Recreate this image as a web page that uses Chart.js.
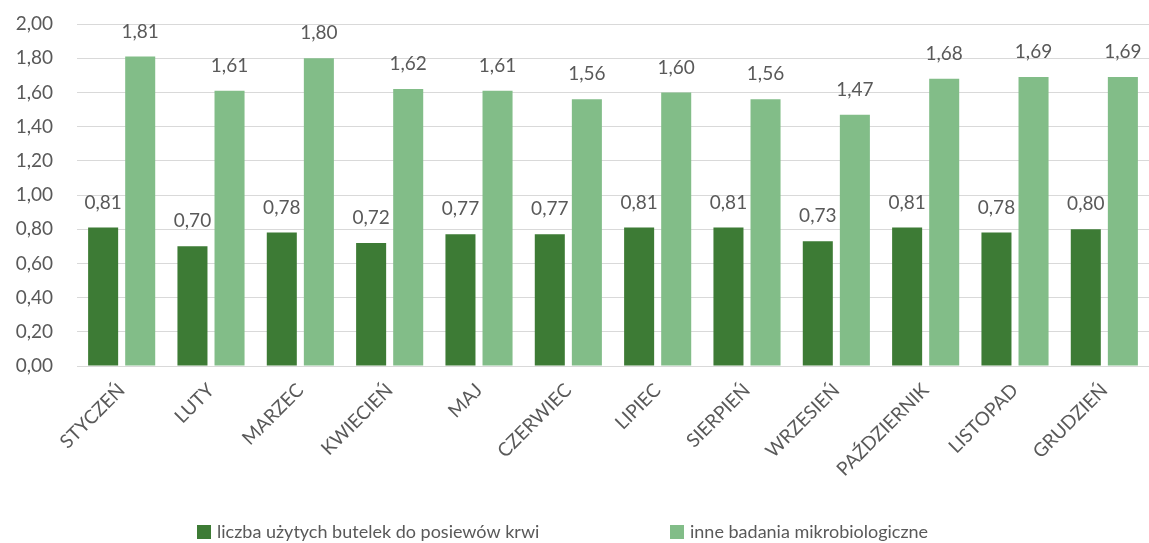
<!DOCTYPE html>
<html>
<head>
<meta charset="utf-8">
<script src="https://cdn.jsdelivr.net/npm/chart.js@4/dist/chart.umd.min.js"></script>
<style>
    html, body { margin: 0; padding: 0; background: #fff; }
    #wrap { width: 1149px; height: 543px; }
</style>
</head>
<body>
<div id="wrap"><canvas id="chart"></canvas></div>
<script>
// months on the x axis
const months = ["STYCZEŃ", "LUTY", "MARZEC", "KWIECIEŃ", "MAJ", "CZERWIEC", "LIPIEC",
    "SIERPIEŃ", "WRZESIEŃ", "PAŹDZIERNIK", "LISTOPAD", "GRUDZIEŃ"];

const bottlesValues = [0.81, 0.70, 0.78, 0.72, 0.77, 0.77, 0.81, 0.81, 0.73, 0.81, 0.78, 0.80];
const otherValues = [1.81, 1.61, 1.80, 1.62, 1.61, 1.56, 1.60, 1.56, 1.47, 1.68, 1.69, 1.69];

const seriesNames = ["liczba użytych butelek do posiewów krwi", "inne badania mikrobiologiczne"];
const seriesColors = ["#3d7b35", "#82bd88"];

const textColor = "#595959";
const fontFamily = "Lato, 'Open Sans', sans-serif";
const fontSize = 19;

function fmt(v) {
    return v.toFixed(2).replace(".", ",");
}

// draw value labels above each bar
const valueLabels = {
    id: "valueLabels",
    afterDatasetsDraw(chart) {
        const ctx = chart.ctx;
        ctx.save();
        ctx.font = fontSize + "px " + fontFamily;
        ctx.fillStyle = textColor;
        ctx.textAlign = "center";
        ctx.textBaseline = "middle";
        chart.data.datasets.forEach((ds, i) => {
            const meta = chart.getDatasetMeta(i);
            meta.data.forEach((bar, j) => {
                ctx.fillText(fmt(ds.data[j]), bar.x, bar.y - 25);
            });
        });
        ctx.restore();
    }
};

// legend at the bottom, wide gap between the two items
const bottomLegend = {
    id: "bottomLegend",
    afterDraw(chart) {
        const ctx = chart.ctx;
        const y = 532;
        const itemX = [197, 670];
        ctx.save();
        ctx.font = "18px " + fontFamily;
        ctx.textBaseline = "middle";
        ctx.textAlign = "left";
        seriesNames.forEach((name, i) => {
            ctx.fillStyle = seriesColors[i];
            ctx.fillRect(itemX[i], y - 7, 14, 14);
            ctx.fillStyle = textColor;
            ctx.fillText(name, itemX[i] + 20, y);
        });
        ctx.restore();
    }
};

const ctx = document.getElementById("chart").getContext("2d");
new Chart(ctx, {
    type: "bar",
    data: {
        labels: months,
        datasets: [
            {
                label: seriesNames[0],
                data: bottlesValues,
                backgroundColor: seriesColors[0]
            },
            {
                label: seriesNames[1],
                data: otherValues,
                backgroundColor: seriesColors[1]
            }
        ]
    },
    options: {
        responsive: true,
        maintainAspectRatio: false,
        animation: false,
        categoryPercentage: 0.83,
        barPercentage: 0.81,
        layout: {
            autoPadding: false,
            padding: { top: 24, right: 0, left: 0, bottom: 57 }
        },
        plugins: {
            legend: { display: false },
            tooltip: { enabled: false }
        },
        scales: {
            x: {
                grid: { display: false, drawTicks: false },
                border: { display: true, color: "#d9d9d9", width: 1 },
                afterFit: (scale) => { scale.height = 120; },
                ticks: {
                    color: textColor,
                    font: { size: fontSize, family: fontFamily },
                    minRotation: 45,
                    maxRotation: 45,
                    autoSkip: false,
                    padding: 13
                }
            },
            y: {
                min: 0,
                max: 2,
                grid: { color: "#d9d9d9", drawTicks: false },
                border: { display: false },
                afterFit: (scale) => {
                    scale.width = 77;
                    scale.paddingTop = 0;
                    scale.paddingBottom = 0;
                },
                ticks: {
                    stepSize: 0.2,
                    color: textColor,
                    font: { size: fontSize, family: fontFamily },
                    padding: 24,
                    callback: (v) => fmt(v)
                }
            }
        }
    },
    plugins: [valueLabels, bottomLegend]
});
</script>
</body>
</html>
